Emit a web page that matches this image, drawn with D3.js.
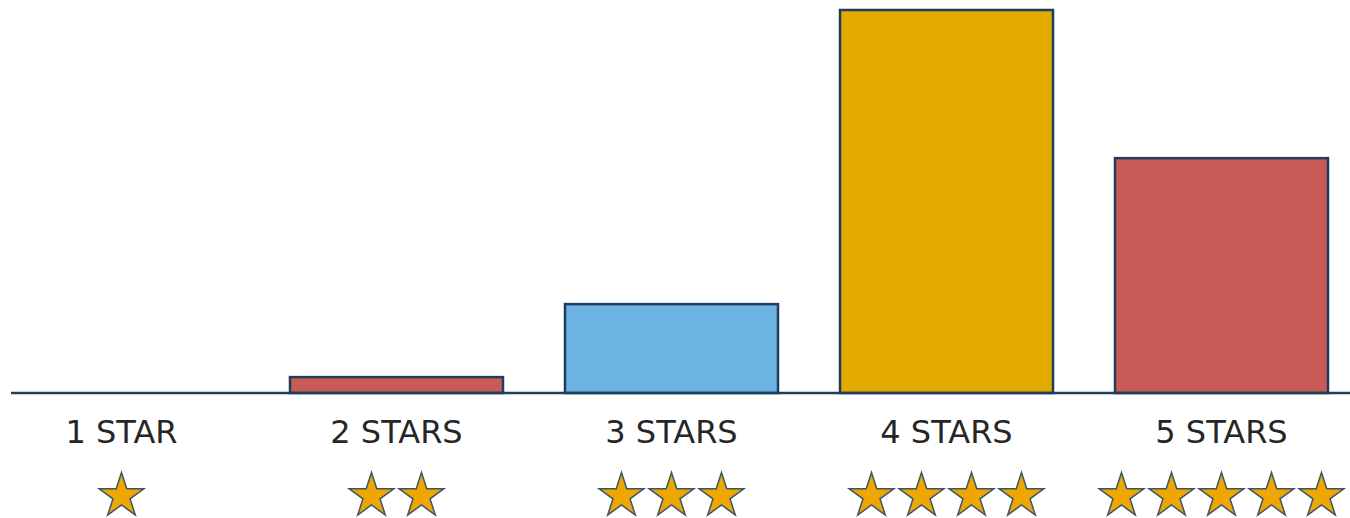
<!DOCTYPE html>
<html>
<head>
<meta charset="utf-8">
<script src="https://cdn.jsdelivr.net/npm/d3@7"></script>
<style>
  body { margin: 0; background: #fff; }
  svg { display: block; }
</style>
</head>
<body>
<script>
// data
const categories = ['1 STAR', '2 STARS', '3 STARS', '4 STARS', '5 STARS'];
const starCounts = [1, 2, 3, 4, 5];
const values = [0, 2.2, 12.3, 53, 32.5];
const barColors = ['#c85a57', '#c85a57', '#6cb3e3', '#e3aa00', '#c85a57'];

const W = 1350, H = 518;
const svg = d3.select('body')
  .append('svg')
    .attr('width', W)
    .attr('height', H);

const baseY = 393;

const x = d3.scaleBand()
  .domain(categories)
  .range([15, 1328])
  .paddingInner(62 / 275)
  .paddingOuter(0);

const y = d3.scaleLinear()
  .domain([0, 53])
  .range([baseY, 10]);

// bars
svg.append('g').selectAll('rect')
  .data(values)
  .join('rect')
    .attr('x', (d, i) => x(categories[i]))
    .attr('y', d => y(d))
    .attr('width', x.bandwidth())
    .attr('height', d => baseY - y(d))
    .attr('fill', (d, i) => barColors[i])
    .attr('stroke', '#1f3d5c')
    .attr('stroke-width', 2.5)
    .style('display', d => d > 0 ? null : 'none');

// baseline
svg.append('line')
  .attr('x1', 11)
  .attr('x2', W)
  .attr('y1', baseY)
  .attr('y2', baseY)
  .attr('stroke', '#1f3d5c')
  .attr('stroke-width', 2.5);

// labels
svg.append('g').selectAll('text')
  .data(categories)
  .join('text')
    .attr('x', d => x(d) + x.bandwidth() / 2)
    .attr('y', 443)
    .attr('text-anchor', 'middle')
    .attr('font-family', 'DejaVu Sans, sans-serif')
    .attr('font-size', 32)
    .attr('fill', '#262626')
    .text(d => d);

// stars
const star = d3.symbol().type(d3.symbolStar).size(23.5 * 23.5 / 0.8908130915292852);
const gap = 50;
categories.forEach((c, i) => {
  const cx = x(c) + x.bandwidth() / 2;
  const n = starCounts[i];
  svg.append('g').selectAll('path')
    .data(d3.range(n))
    .join('path')
      .attr('d', star)
      .attr('transform', k => 'translate(' + (cx + (k - (n - 1) / 2) * gap) + ',496)')
      .attr('fill', '#eea700')
      .attr('stroke', '#3a566e')
      .attr('stroke-width', 1.5);
});
</script>
</body>
</html>
